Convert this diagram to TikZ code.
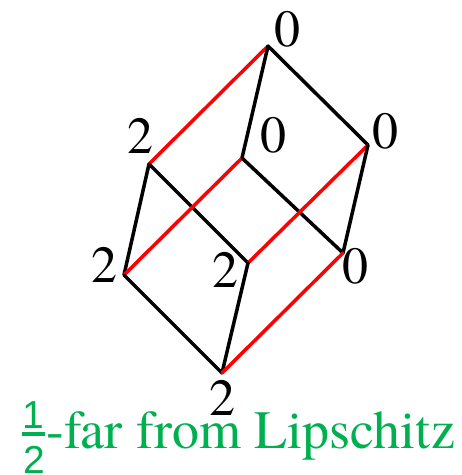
\documentclass[tikz,border=0pt]{standalone}
\usepackage{fontspec}
\newfontfamily\timesfont{texgyretermes-regular.otf}
\newfontfamily\fracfont{Liberation Sans}
\definecolor{lipgreen}{RGB}{0,176,80}
\begin{document}
\begin{tikzpicture}[x=1pt,y=-1pt,
  lbl/.style={inner sep=0pt,font=\timesfont\fontsize{52}{52}\selectfont},
  edge/.style={line width=3.5pt,black,line cap=round},
  redge/.style={line width=3.5pt,red,line cap=round},
  frac/.style={inner sep=0pt,text=lipgreen,font=\fracfont\fontsize{39}{39}\selectfont}]
\useasboundingbox (0,0) rectangle (462,475);
% vertices
\coordinate (T) at (268,46);
\coordinate (R) at (368,145);
\coordinate (LT) at (149,164);
\coordinate (M) at (242,158);
\coordinate (L) at (124,275);
\coordinate (C) at (248,263);
\coordinate (RL) at (343,253);
\coordinate (B) at (222,373);
% edges
\draw[redge] (T) -- (LT);
\draw[edge] (T) -- (M);
\draw[edge] (T) -- (R);
\draw[edge] (LT) -- (L);
\draw[edge] (LT) -- (C);
\draw[redge] (M) -- (L);
\draw[edge] (M) -- (RL);
\draw[redge] (R) -- (C);
\draw[edge] (R) -- (RL);
\draw[edge] (L) -- (B);
\draw[edge] (C) -- (B);
\draw[redge] (RL) -- (B);
% labels
\node[lbl] (lT) at (287,29) {0};
\node[lbl] (lR) at (385,131) {0};
\node[lbl] (lM) at (273,135) {0};
\node[lbl] (lLT) at (141,136) {2};
\node[lbl] (lL) at (105,265) {2};
\node[lbl] (lC) at (225,270) {2};
\node[lbl] (lRL) at (355,266) {0};
\node[lbl] (lB) at (222,398) {2};
% caption
\node[frac,anchor=base] (num) at (33,428) {1};
\node[frac,anchor=base] (den) at (34,473) {2};
\coordinate (barL) at (22,434);
\coordinate (barR) at (45,434);
\draw[line width=3.5pt,lipgreen] (barL) -- (barR);
\node[anchor=base west,inner sep=0pt,text=lipgreen,font=\timesfont\fontsize{54}{54}\selectfont] (cap) at (46,448) {-far from Lipschitz};
\end{tikzpicture}
\end{document}
